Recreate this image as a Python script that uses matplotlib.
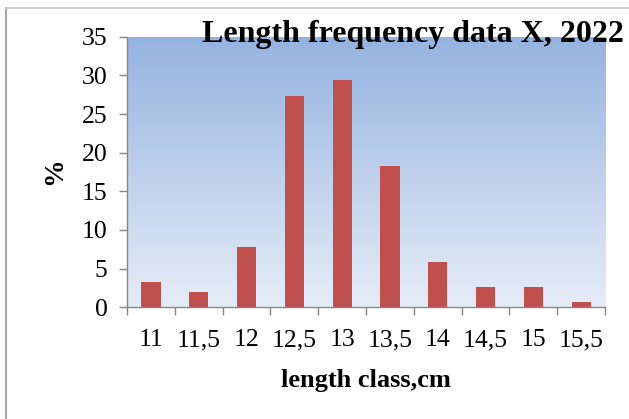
import matplotlib.pyplot as plt
import numpy as np
from matplotlib.lines import Line2D

# length classes (cm) and percentage share per class
classes = ['11', '11,5', '12', '12,5', '13', '13,5', '14', '14,5', '15', '15,5']
percent = [3.2, 1.9, 7.8, 27.4, 29.4, 18.3, 5.85, 2.6, 2.6, 0.6]
yticks = [0, 5, 10, 15, 20, 25, 30, 35]

plt.rcParams['font.family'] = ['Liberation Serif', 'DejaVu Serif']

fig = plt.figure(figsize=(6.29, 4.19), dpi=100)
ax = fig.add_axes([0.202, 0.267, 0.76, 0.645])

x = np.arange(len(classes))

# vertical blue-to-white gradient behind the bars
top = np.array([0x95, 0xB3, 0xE0]) / 255
bottom = np.array([0xE6, 0xEC, 0xF7]) / 255
t = np.linspace(0, 1, 256)[:, None]
grad = (top * (1 - t) + bottom * t)[:, None, :]
ax.imshow(grad, extent=[-0.5, len(classes) - 0.5, 0, 35], aspect='auto',
          zorder=0, interpolation='bilinear')

ax.bar(x, percent, width=0.4, color='#C0504D', zorder=2)

ax.set_xlim(-0.5, len(classes) - 0.5)
ax.set_ylim(0, 35)
ax.set_yticks(yticks)
ax.set_xticks(x)
ax.set_xticklabels(classes)
ax.set_xticks(np.arange(len(classes) + 1) - 0.5, minor=True)
ax.tick_params(axis='x', which='major', length=0, labelsize=18.5, pad=16)
ax.tick_params(axis='x', which='minor', length=6, color='#868686', width=1)
ax.tick_params(axis='y', length=6, color='#868686', width=1, labelsize=18.5, pad=8)

for side in ('top', 'right'):
    ax.spines[side].set_visible(False)
for side in ('left', 'bottom'):
    ax.spines[side].set_color('#868686')
    ax.spines[side].set_linewidth(1)

ax.set_xlabel('length class,cm', fontsize=19, fontweight='bold', labelpad=13)
ax.set_ylabel('%', fontsize=20, fontweight='bold')
ax.yaxis.set_label_coords(-0.126, 0.505)
fig.text(0.657, 0.917, 'Length frequency data X, 2022', ha='center',
         va='center', fontsize=23, fontweight='bold')

# chart frame edges
fig.add_artist(Line2D([0.0095, 0.0095], [0, 0.981], transform=fig.transFigure,
                      color='#A6A6A6', lw=1.5))
fig.add_artist(Line2D([0.0095, 1], [0.981, 0.981], transform=fig.transFigure,
                      color='#C8C8C8', lw=1.2))

fig.savefig('out.png', dpi=100)
